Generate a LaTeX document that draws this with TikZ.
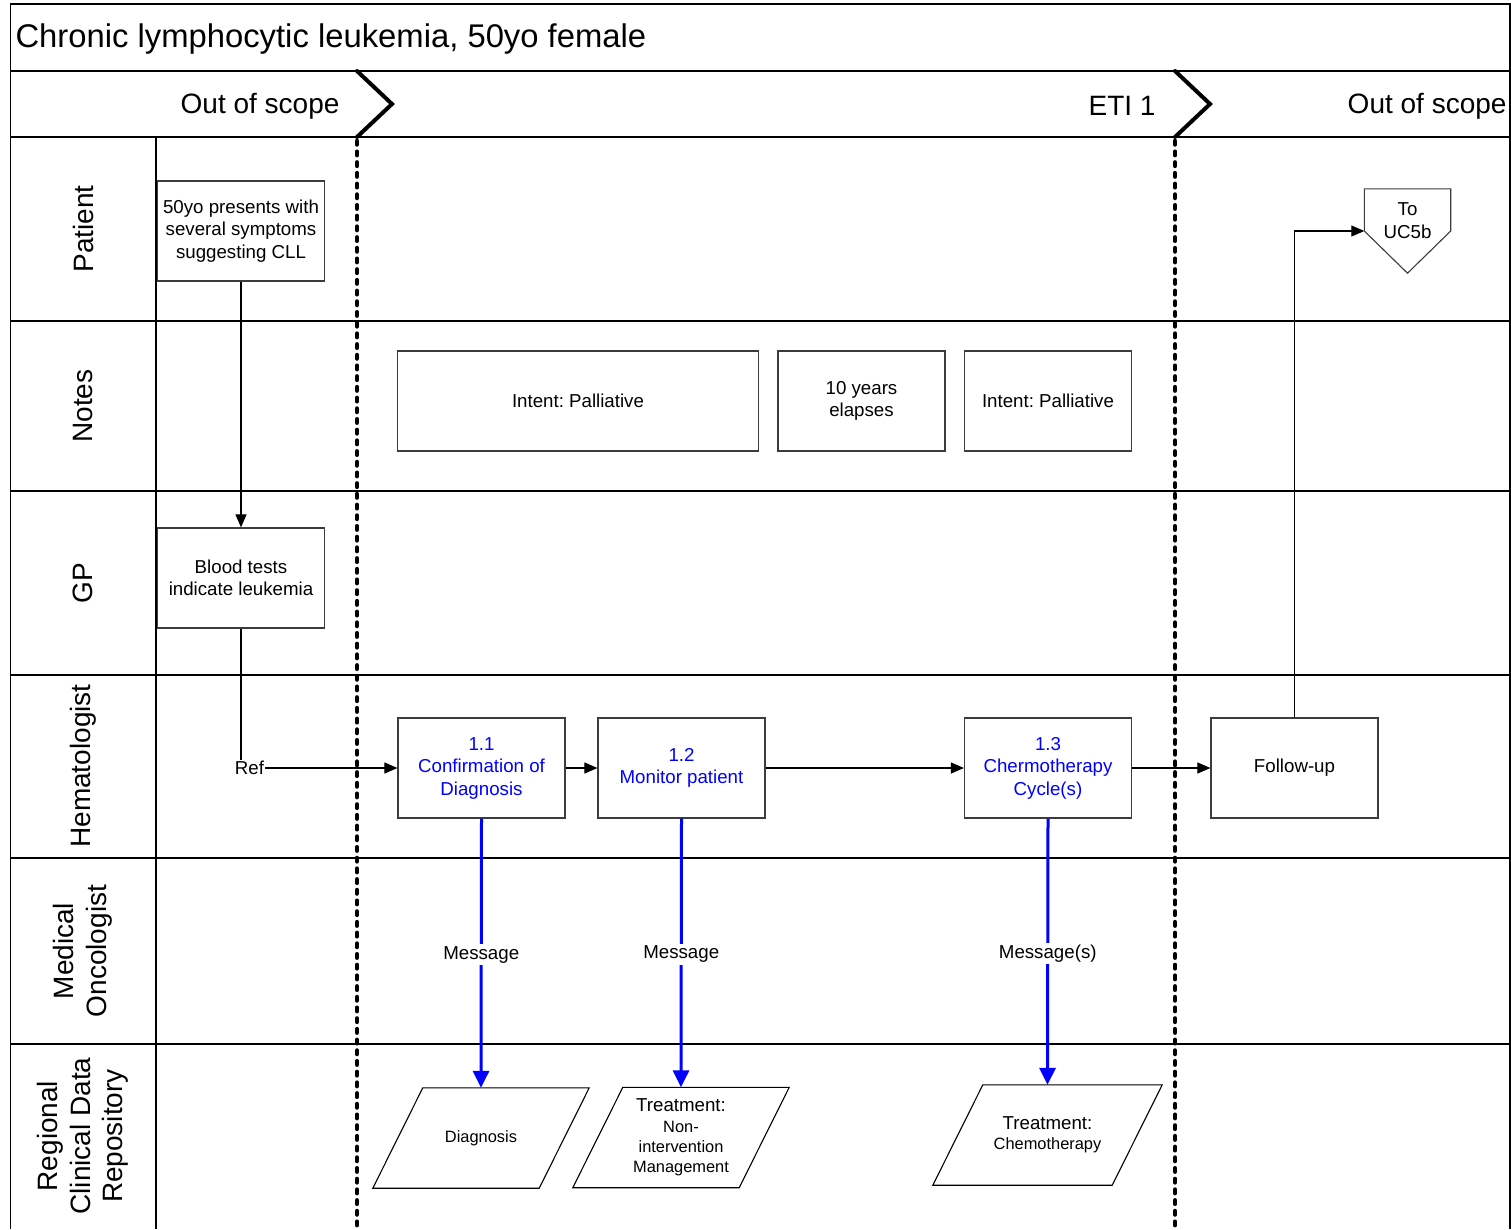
\documentclass[tikz,border=0pt]{standalone}
\usepackage{fontspec}
\setmainfont{Liberation Sans}
\usetikzlibrary{arrows.meta,calc}
\definecolor{stepblue}{RGB}{0,0,255}
\definecolor{edgegray}{RGB}{60,60,60}
\frenchspacing
\begin{document}
\begin{tikzpicture}[x=1pt,y=-1pt,
  frameline/.style={line width=1.3pt, draw=black},
  chevron/.style={line width=4pt, line cap=round, line join=miter},
  phasesep/.style={line width=4.5pt, line cap=round, dash pattern=on 3.5pt off 7.2pt},
  lanelabel/.style={rotate=90, align=center, font=\fontsize{28}{32.5}\selectfont},
  phaselabel/.style={anchor=east, font=\fontsize{28}{32}\selectfont},
  procbox/.style={draw=edgegray, line width=1.2pt, fill=white, minimum width=167pt,
    minimum height=100pt, inner sep=2pt, align=center,
    font=\fontsize{18.7}{22.5}\selectfont},
  stepbox/.style={procbox, text=stepblue},
  parabox/.style={minimum height=100pt, inner sep=0pt, align=center,
    font=\fontsize{16.4}{20.3}\selectfont},
  paraline/.style={draw=black, line width=1.1pt},
  arr/.style={draw=black, line width=1.1pt, -{Triangle[length=13pt,width=11pt]}},
  msg/.style={draw=stepblue, line width=3pt, -{Triangle[length=17pt,width=16pt]}},
  msglabel/.style={fill=white, text=black, inner sep=2pt, yshift=-1.5pt,
    font=\fontsize{18.7}{22.5}\selectfont}
]
\useasboundingbox (0,0) rectangle (1511,1229);

% pool frame, title band and phase band
\draw[frameline] (10.5,1229) -- (10.5,4) -- (1510,4) -- (1510,1229);
\draw[frameline] (10.5,71) -- (1510,71);
\draw[frameline] (10.5,137) -- (1510,137);
\draw[frameline] (156,137) -- (156,1229);
\foreach \yy in {321,491,675,858,1044}
  \draw[frameline] (10.5,\yy) -- (1510,\yy);

\node[anchor=west, font=\fontsize{32.8}{38}\selectfont] (title) at (12,39.5)
  {Chronic lymphocytic leukemia, 50yo female};

% phases
\node[phaselabel] (ph1) at (343,106) {Out of scope};
\node[phaselabel] (ph2) at (1159,106) {ETI 1};
\node[phaselabel] (ph3) at (1510,106) {Out of scope};
\draw[chevron] (357,71) -- (392,104) -- (357,137);
\draw[chevron] (1175,71) -- (1210,104) -- (1175,137);
\draw[phasesep] (357,141) -- (357,1229);
\draw[phasesep] (1175,141) -- (1175,1229);

% lane labels
\node[lanelabel] (lpat) at (83,229) {Patient};
\node[lanelabel] (lnot) at (83,406) {Notes};
\node[lanelabel] (lgp)  at (83,583) {GP};
\node[lanelabel] (lhem) at (83,766) {Hematologist};
\node[lanelabel] (lonc) at (83,951) {Medical\\Oncologist};
\node[lanelabel] (lrep) at (83,1136) {Regional\\Clinical Data\\Repository};

% patient and GP
\node[procbox] (pt) at (241,231) {50yo presents with\\several symptoms\\suggesting CLL};
\node[procbox] (gp) at (241,578) {Blood tests\\indicate leukemia};

% notes
\node[procbox, minimum width=361pt] (n1) at (578,401) {Intent: Palliative};
\node[procbox] (n2) at (861.5,401) {10 years\\elapses};
\node[procbox] (n3) at (1048,401) {Intent: Palliative};

% hematologist steps
\node[stepbox] (s11) at (481.5,768) {1.1\\Confirmation of\\Diagnosis};
\node[stepbox] (s12) at (681.5,768) {1.2\\Monitor patient};
\node[stepbox] (s13) at (1048,768) {1.3\\Chermotherapy\\Cycle(s)};
\node[procbox] (fu) at (1294.5,768) {Follow-up};

% off-page connector
\node[minimum width=86pt, minimum height=84pt, inner sep=0pt] (uc) at (1407.5,231) {};
\draw[draw=edgegray, line width=1.1pt, fill=white]
  (uc.north west) -- (uc.north east) -- (uc.east) -- (uc.south) -- (uc.west) -- cycle;
\node[align=center, font=\fontsize{18.7}{22.5}\selectfont] (uctext) at (1407.5,220.5) {To\\UC5b};

% repository records
\node[parabox, minimum width=216pt] (dg) at (481,1138) {Diagnosis};
\node[parabox, minimum width=216pt] (tn) at (681,1137.5)
  {{\fontsize{18.7}{22}\selectfont Treatment:}\\Non-\\intervention\\Management};
\node[parabox, minimum width=229pt] (tc) at (1047.5,1135)
  {{\fontsize{18.7}{22}\selectfont Treatment:}\\Chemotherapy};
\draw[paraline] (dg.south west) -- ($(dg.south east)+(-50,0)$) -- (dg.north east)
  -- ($(dg.north west)+(50,0)$) -- cycle;
\draw[paraline] (tn.south west) -- ($(tn.south east)+(-50,0)$) -- (tn.north east)
  -- ($(tn.north west)+(50,0)$) -- cycle;
\draw[paraline] (tc.south west) -- ($(tc.south east)+(-50,0)$) -- (tc.north east)
  -- ($(tc.north west)+(50,0)$) -- cycle;

% flow
\draw[arr] (pt) -- (gp);
\draw[arr] (gp.south) |- (s11.west)
  node[pos=0.5, xshift=8.5pt, fill=white, inner sep=1pt, font=\fontsize{18.7}{22.5}\selectfont] (ref) {Ref};
\draw[arr] (s11) -- (s12);
\draw[arr] (s12) -- (s13);
\draw[arr] (s13) -- (fu);
\draw[arr] (fu.north) |- (uc.west);

% messages to the repository
\draw[msg] (s11.south) -- (dg.north) node[midway, msglabel] (m1) {Message};
\draw[msg] (s12.south) -- (tn.north) node[midway, msglabel] (m2) {Message};
\draw[msg] (s13.south) -- (tc.north) node[midway, msglabel] (m3) {Message(s)};
\end{tikzpicture}
\end{document}
